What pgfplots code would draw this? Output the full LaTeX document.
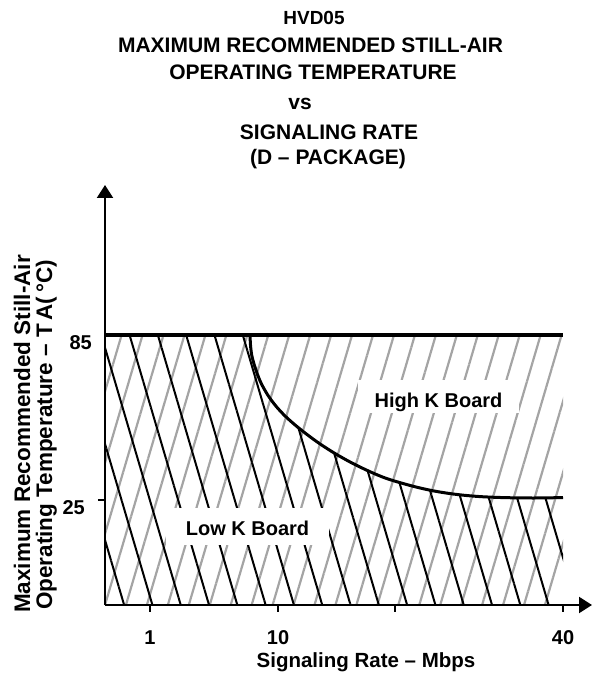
\documentclass[border=0pt]{standalone}
\usepackage{fontspec}
\setmainfont{Liberation Sans}
\usepackage{pgfplots}
\usepackage{pgfplotstable}
\pgfplotsset{compat=1.18}
\usetikzlibrary{arrows.meta,patterns.meta}
\definecolor{hatchgray}{HTML}{A4A4A4}
\newcommand{\fs}[1]{\fontsize{#1bp}{#1bp}\selectfont\bfseries}
\pgfplotstableread{
x T
145 85
145.5 81.36
146.7 77.73
149.3 74.09
152.7 70.45
156.5 67.18
163 63.04
171 59.11
180 55.58
190 52.31
202 48.82
215 45.4
230 41.91
247 38.45
265 35.29
281 32.89
298 31.0
313 29.55
328 28.35
343 27.44
358 26.76
375 26.24
392 25.95
408 25.8
425 25.73
441 25.76
458 25.91
}\boundary
\begin{document}
\begin{tikzpicture}
\useasboundingbox (0,0) rectangle (592bp,677bp);
% title
\node[anchor=base, inner sep=0pt, font=\fs{19}] at (314bp,652bp) {HVD05};
\node[anchor=base, inner sep=0pt, font=\fs{21}] at (310.5bp,624bp) {MAXIMUM RECOMMENDED STILL-AIR};
\node[anchor=base, inner sep=0pt, font=\fs{21}] at (313bp,597bp) {OPERATING TEMPERATURE};
\node[anchor=base, inner sep=0pt, font=\fs{21}] at (300bp,567bp) {vs};
\node[anchor=base, inner sep=0pt, font=\fs{21}] at (329bp,537bp) {SIGNALING RATE};
\node[anchor=base, inner sep=0pt, font=\fs{21}] at (328bp,512bp) {(D – PACKAGE)};
% y label
\node[anchor=base, inner sep=0pt, rotate=90, font=\fs{22.5}] at (30bp,243bp) {Maximum Recommended Still-Air};
\node[anchor=base, inner sep=0pt, rotate=90, font=\fs{22.5}] at (52bp,242bp) {Operating Temperature – T\,A(\,°C)};
% x label
\node[anchor=base, inner sep=0pt, font=\fs{20.5}] at (366bp,10bp) {Signaling Rate – Mbps};
\begin{axis}[
  at={(105bp,72bp)}, anchor=south west,
  scale only axis, width=487bp, height=420bp,
  xmin=0, xmax=487, ymin=-13.18, ymax=139.55,
  enlargelimits=false,
  axis lines=left,
  axis line style={line width=2.2bp, -{Triangle[length=13bp,width=16bp]}},
  axis on top,
  xtick={45,173,290,458}, xticklabels={1,10,,40},
  ytick={25},
  extra y ticks={85}, extra y tick style={major tick length=0pt},
  tick align=outside, major tick length=7bp,
  tick style={line width=1.2bp, black},
  ticklabel style={font=\fs{20}},
  /pgf/number format/assume math mode=true,
  xticklabel style={anchor=base, inner sep=0pt, yshift=-32bp},
  yticklabel style={anchor=base east, inner sep=0pt, xshift=-13bp, yshift=-14bp},
  clip=false,
]
% gray hatch over whole operating region
\addplot[draw=none, pattern={Lines[angle=73.6, distance=20.1bp, line width=2.2bp]}, pattern color=hatchgray]
  coordinates {(0,-13.18) (458,-13.18) (458,85) (0,85)} --cycle;
% black hatch: Low K board region (below the boundary)
\addplot[draw=none, pattern={Lines[angle=-73.6, distance=27.15bp, line width=2bp, yshift=13bp]}, pattern color=black]
  coordinates {(0,-13.18) (0,85) (145,85) (145.5,81.36) (146.7,77.73) (149.3,74.09) (152.7,70.45) (156.5,67.18) (163,63.04) (171,59.11) (180,55.58) (190,52.31) (202,48.82) (215,45.4) (230,41.91) (247,38.45) (265,35.29) (281,32.89) (298,31.0) (313,29.55) (328,28.35) (343,27.44) (358,26.76) (375,26.24) (392,25.95) (408,25.8) (425,25.73) (441,25.76) (458,25.91) (458,-13.18)} --cycle;
% 85 limit line
\addplot[line width=3.2bp] coordinates {(0,85) (458,85)};
% Low K / High K boundary
\addplot[line width=3bp, smooth] table[x=x, y=T] {\boundary};
\node[fill=white, inner xsep=16.5bp, inner ysep=6bp, text height=21bp, text depth=0bp, anchor=base, font=\fs{20}] at (axis cs:333.5,58.8) {High K Board};
\node[fill=white, inner xsep=20bp, inner ysep=6bp, text height=21bp, text depth=4bp, anchor=base, font=\fs{20}] at (axis cs:142.5,12.27) {Low K Board};
\end{axis}
\end{tikzpicture}
\end{document}
